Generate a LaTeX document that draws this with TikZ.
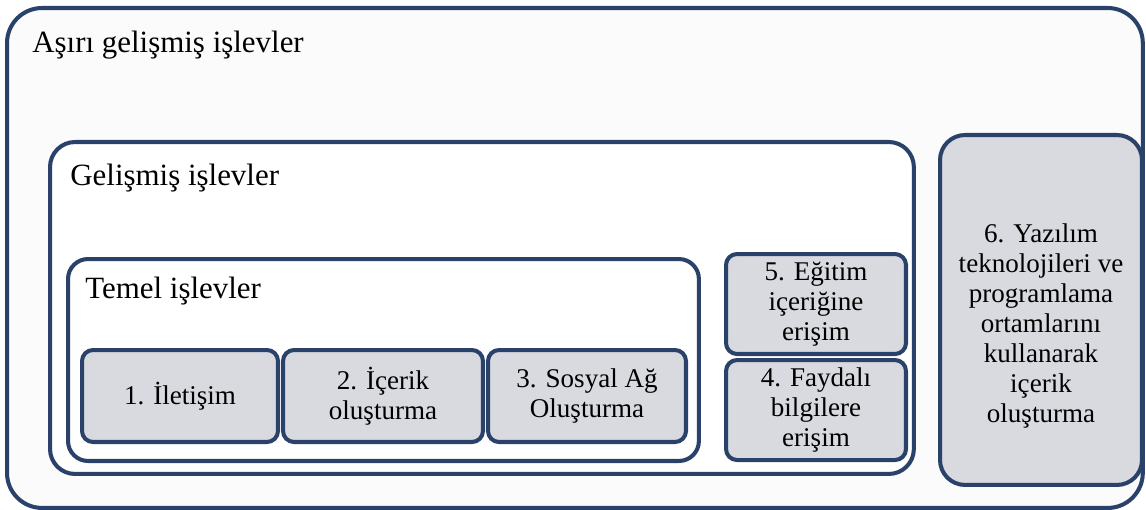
\documentclass[tikz,border=0pt]{standalone}
\usepackage{fontspec}
\setmainfont{Liberation Serif}
\usetikzlibrary{positioning}
\definecolor{cFrameDraw}{RGB}{42, 66, 106}
\definecolor{cItemFill}{RGB}{216, 218, 224}
\definecolor{cPageFill}{RGB}{251, 251, 252}
\newcommand{\titleFont}{\fontsize{17.6}{21}\selectfont}
\newcommand{\itemFont}{\fontsize{15.4}{17}\selectfont}
\tikzset{
    % frames
    frameBox/.style={
        rectangle, draw=cFrameDraw, line width=2.3pt,
        anchor=north west, inner sep=0pt
    },
    outerBox/.style={frameBox, rounded corners=0.7cm, fill=cPageFill},
    groupBox/.style={frameBox, rounded corners=0.5cm, fill=white},
    itemBox/.style={frameBox, rounded corners=0.22cm, fill=cItemFill,
        align=center, font=\itemFont},
    itemText/.style={align=center, font=\itemFont, inner sep=0pt},
    % titles of the frames
    titleText/.style={anchor=base west, inner sep=0pt, font=\titleFont}
}

\begin{document}
\begin{tikzpicture}[x=0.02cm, y=-0.02cm]

    \useasboundingbox (0,0) rectangle (1146,510);

    % --- outer frames ---
    \node [outerBox, minimum width=22.72cm, minimum height=10cm] (advanced) at (5,6) {};
    \node [titleText] (advancedTitle) at (32,53) {Aşırı gelişmiş işlevler};

    \node [groupBox, minimum width=17.28cm, minimum height=6.64cm] (middle) at (48,140) {};
    \node [titleText] (middleTitle) at (70,185) {Gelişmiş işlevler};

    \node [groupBox, rounded corners=0.4cm, minimum width=12.62cm, minimum height=4.04cm] (basic) at (66,257) {};
    \node [titleText] (basicTitle) at (85,298) {Temel işlevler};

    % --- basic items ---
    \node [itemBox, minimum width=3.92cm, minimum height=1.84cm] (comm) at (80,348) {1. İletişim};
    \node [itemBox, right=0.02cm of comm, minimum width=4.0cm, minimum height=1.84cm] (content) {2. İçerik\\oluşturma};
    \node [itemBox, right=0.02cm of content, minimum width=3.96cm, minimum height=1.84cm] (social) {3. Sosyal Ağ\\Oluşturma};

    % --- advanced items ---
    \node [itemBox, minimum width=3.6cm, minimum height=2.0cm] (education) at (724,252) {5. Eğitim\\içeriğine\\erişim};
    \node [itemBox, below=0.04cm of education, minimum width=3.6cm, minimum height=2.0cm] (useful) {4. Faydalı\\bilgilere\\erişim};

    % --- most advanced item ---
    \node [itemBox, rounded corners=0.5cm, minimum width=4.04cm, minimum height=7.0cm] (software) at (938,133) {};
    \node [itemText] (softwareText) at ([yshift=-0.32cm]software.center) {
        6. Yazılım\\teknolojileri ve\\programlama\\ortamlarını\\kullanarak\\içerik\\oluşturma
    };

\end{tikzpicture}
\end{document}
